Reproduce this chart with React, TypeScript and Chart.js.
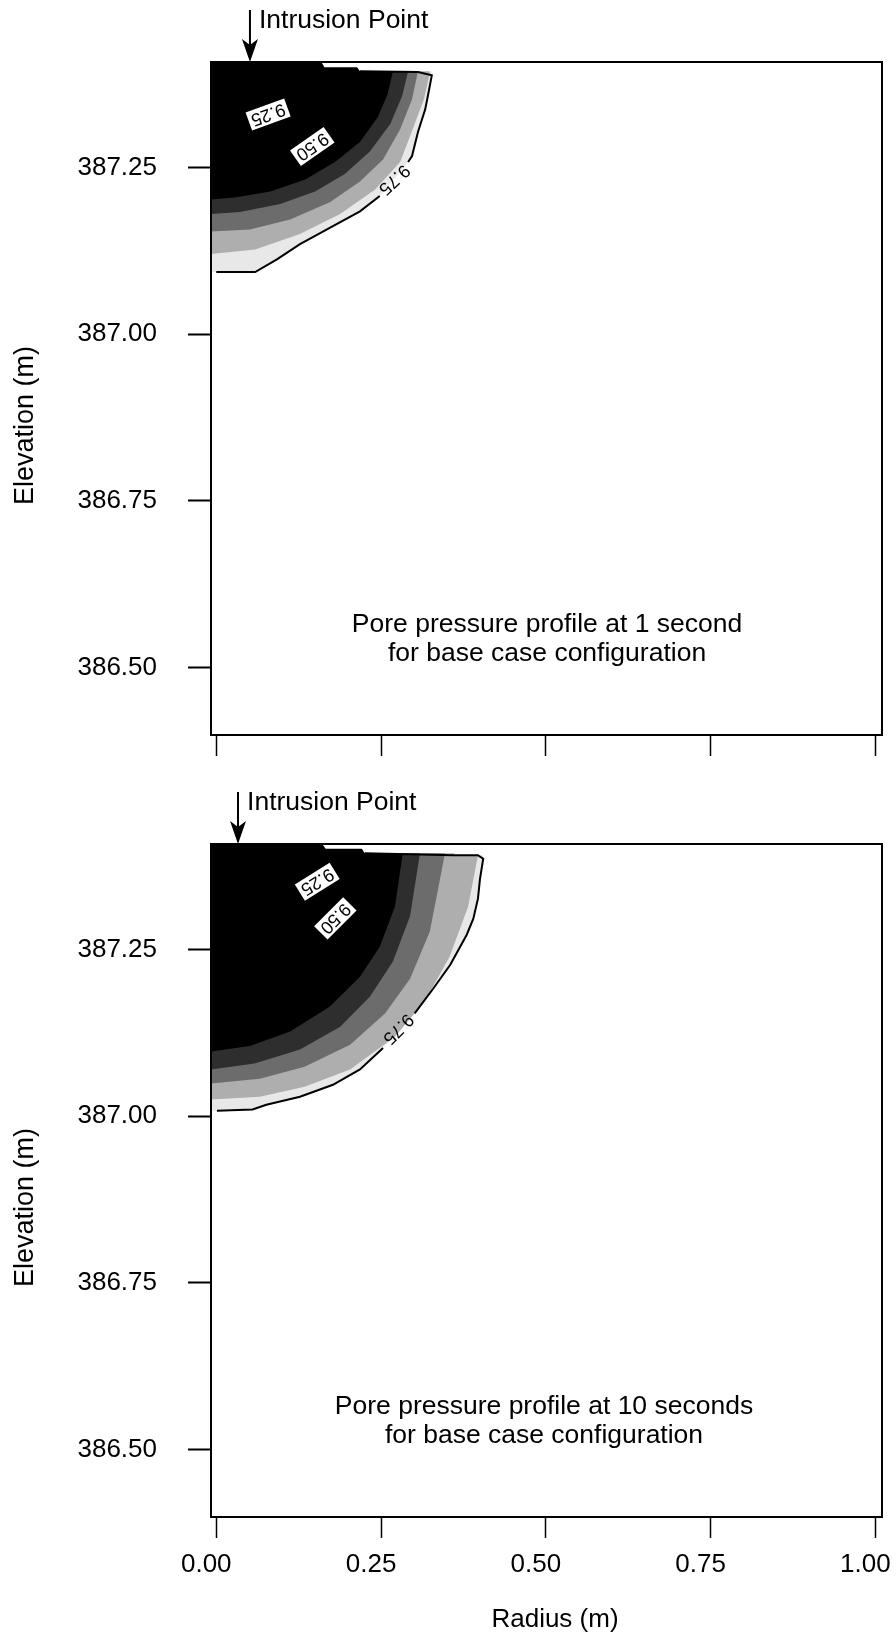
import React, { useEffect, useRef } from "react";
import { Chart, registerables } from "chart.js";

Chart.register(...registerables);

const FONT = '"Liberation Sans", Arial, Helvetica, sans-serif';

// ---- axes ----
const xTicks = [0, 0.25, 0.5, 0.75, 1.0];
const yTicks = [386.5, 386.75, 387.0, 387.25];
const xMin = -0.008;
const xMax = 1.01;
const yMin = 386.399;
const yMax = 387.408;

// ---- panel 1 (1 second) : 9.75 contour, split around its label ----
const t1_c975_lower = [[0.0, 387.093], [0.059, 387.093], [0.092, 387.112], [0.127, 387.135], [0.177, 387.162], [0.218, 387.184], [0.248, 387.207]];
const t1_c975_upper = [[0.291, 387.258], [0.297, 387.267], [0.306, 387.303], [0.317, 387.337], [0.321, 387.357], [0.327, 387.388]];
const t1_c975_top = [[0.306, 387.393], [0.218, 387.394]];
// shading levels (inner to outer)
const t1_core = [[-0.008, 387.202], [0.028, 387.205], [0.082, 387.214], [0.135, 387.232], [0.18, 387.258], [0.218, 387.288], [0.245, 387.325], [0.26, 387.36], [0.268, 387.394]];
const t1_dark = [[-0.008, 387.18], [0.036, 387.183], [0.097, 387.195], [0.15, 387.214], [0.195, 387.24], [0.233, 387.274], [0.264, 387.315], [0.282, 387.357], [0.291, 387.394]];
const t1_mid = [[-0.008, 387.154], [0.051, 387.157], [0.112, 387.172], [0.173, 387.198], [0.218, 387.229], [0.253, 387.262], [0.279, 387.307], [0.297, 387.352], [0.306, 387.394]];
const t1_light = [[-0.008, 387.12], [0.059, 387.127], [0.127, 387.15], [0.188, 387.18], [0.241, 387.217], [0.279, 387.258], [0.298, 387.307], [0.315, 387.352], [0.324, 387.391]];
const t1_fieldTop = [[0.159, 387.409], [0.164, 387.4], [0.2135, 387.4], [0.218, 387.394], [0.34, 387.394]];
const t1_labelText = ["9.25", "9.50", "9.75"];
const t1_labelX = [0.0784, 0.1452, 0.2696];
const t1_labelY = [387.33, 387.282, 387.232];
const t1_intrusionX = 0.0511;

// ---- panel 2 (10 seconds) ----
const t10_c975_lower = [[0.001, 387.008], [0.055, 387.01], [0.076, 387.017], [0.127, 387.029], [0.177, 387.047], [0.218, 387.07], [0.253, 387.102]];
const t10_c975_upper = [[0.301, 387.154], [0.329, 387.191], [0.355, 387.227], [0.38, 387.272], [0.39, 387.296], [0.397, 387.326], [0.4, 387.355], [0.405, 387.386]];
const t10_c975_top = [[0.397, 387.391], [0.359, 387.391], [0.225, 387.394]];
const t10_core = [[-0.008, 387.097], [0.051, 387.105], [0.112, 387.127], [0.172, 387.164], [0.218, 387.209], [0.248, 387.254], [0.271, 387.314], [0.283, 387.394]];
const t10_dark = [[-0.008, 387.07], [0.058, 387.079], [0.127, 387.1], [0.188, 387.134], [0.233, 387.179], [0.268, 387.232], [0.294, 387.3], [0.309, 387.394]];
const t10_mid = [[-0.008, 387.049], [0.066, 387.056], [0.134, 387.074], [0.203, 387.107], [0.256, 387.154], [0.294, 387.206], [0.324, 387.277], [0.347, 387.394]];
const t10_light = [[-0.008, 387.025], [0.066, 387.029], [0.134, 387.044], [0.203, 387.07], [0.271, 387.119], [0.316, 387.172], [0.354, 387.239], [0.382, 387.314], [0.397, 387.391]];
const t10_fieldTop = [[0.16, 387.409], [0.166, 387.401], [0.221, 387.401], [0.225, 387.394], [0.36, 387.394], [0.364, 387.391], [0.42, 387.391]];
const t10_labelText = ["9.25", "9.50", "9.75"];
const t10_labelX = [0.1528, 0.1801, 0.2757];
const t10_labelY = [387.352, 387.297, 387.131];
const t10_intrusionX = 0.033;

const noteLines1 = ["Pore pressure profile at 1 second", "for base case configuration"];
const noteLines10 = ["Pore pressure profile at 10 seconds", "for base case configuration"];
const noteY = [386.553, 386.51];

type Cfg = {
  height: number;
  padTop: number;
  xAxisHeight: number;
  showXLabels: boolean;
  lower: number[][];
  upper: number[][];
  top: number[][];
  core: number[][];
  dark: number[][];
  mid: number[][];
  light: number[][];
  fieldTop: number[][];
  labelText: string[];
  labelX: number[];
  labelY: number[];
  labelAngle: number[];
  labelBoxed: boolean[];
  intrusionX: number;
  note: string[];
  noteX: number;
  radiusTitle: boolean;
};

const panels: Cfg[] = [
  {
    height: 790, padTop: 62, xAxisHeight: 55, showXLabels: false,
    lower: t1_c975_lower, upper: t1_c975_upper, top: t1_c975_top,
    core: t1_core, dark: t1_dark, mid: t1_mid, light: t1_light, fieldTop: t1_fieldTop,
    labelText: t1_labelText, labelX: t1_labelX, labelY: t1_labelY,
    labelAngle: [160, 145, 137], labelBoxed: [true, true, false],
    intrusionX: t1_intrusionX, note: noteLines1, noteX: 0.5018, radiusTitle: false,
  },
  {
    height: 848, padTop: 54, xAxisHeight: 121, showXLabels: true,
    lower: t10_c975_lower, upper: t10_c975_upper, top: t10_c975_top,
    core: t10_core, dark: t10_dark, mid: t10_mid, light: t10_light, fieldTop: t10_fieldTop,
    labelText: t10_labelText, labelX: t10_labelX, labelY: t10_labelY,
    labelAngle: [148, 135, 135], labelBoxed: [true, true, false],
    intrusionX: t10_intrusionX, note: noteLines10, noteX: 0.4972, radiusTitle: true,
  },
];

const toPts = (a: number[][]) => a.map(([x, y]) => ({ x, y }));

function fillSet(data: number[][], color: string, order: number) {
  return {
    data: toPts(data),
    borderWidth: 0,
    borderColor: color,
    backgroundColor: color,
    fill: "end",
    pointRadius: 0,
    tension: 0,
    order,
  };
}

function makeDecor(cfg: Cfg) {
  return {
    id: "decor",
    afterDraw(chart: any) {
      const ctx = chart.ctx as CanvasRenderingContext2D;
      const { left, top, right, bottom } = chart.chartArea;
      const xs = chart.scales.x;
      const ys = chart.scales.y;
      ctx.save();
      // contour labels
      for (let i = 0; i < cfg.labelText.length; i++) {
        const px = xs.getPixelForValue(cfg.labelX[i]);
        const py = ys.getPixelForValue(cfg.labelY[i]);
        ctx.save();
        ctx.translate(px, py);
        ctx.rotate((cfg.labelAngle[i] * Math.PI) / 180);
        ctx.font = `18px ${FONT}`;
        const w = ctx.measureText(cfg.labelText[i]).width;
        if (cfg.labelBoxed[i]) {
          ctx.fillStyle = "#fff";
          ctx.fillRect(-w / 2 - 3, -10, w + 6, 19);
        }
        ctx.fillStyle = "#000";
        ctx.textAlign = "center";
        ctx.textBaseline = "middle";
        ctx.fillText(cfg.labelText[i], 0, 0);
        ctx.restore();
      }
      // frame
      ctx.strokeStyle = "#000";
      ctx.lineWidth = 2;
      ctx.strokeRect(left, top, right - left, bottom - top);
      // intrusion arrow
      const ax = xs.getPixelForValue(cfg.intrusionX);
      ctx.fillStyle = "#000";
      ctx.beginPath();
      ctx.moveTo(ax, top - 52);
      ctx.lineTo(ax, top - 14);
      ctx.lineWidth = 2;
      ctx.stroke();
      ctx.beginPath();
      ctx.moveTo(ax, top);
      ctx.lineTo(ax - 8, top - 23);
      ctx.lineTo(ax, top - 17);
      ctx.lineTo(ax + 8, top - 23);
      ctx.closePath();
      ctx.fill();
      ctx.font = `26.5px ${FONT}`;
      ctx.textAlign = "left";
      ctx.textBaseline = "alphabetic";
      ctx.fillText("Intrusion Point", ax + 9, top - 34);
      // note text
      ctx.textAlign = "center";
      const nx = xs.getPixelForValue(cfg.noteX);
      for (let i = 0; i < cfg.note.length; i++) {
        ctx.fillText(cfg.note[i], nx, ys.getPixelForValue(noteY[i]));
      }
      // y axis title
      ctx.save();
      ctx.font = `27px ${FONT}`;
      ctx.translate(33, (top + bottom) / 2 + 27);
      ctx.rotate(-Math.PI / 2);
      ctx.textAlign = "center";
      ctx.fillText("Elevation (m)", 0, 0);
      ctx.restore();
      if (cfg.radiusTitle) {
        ctx.font = `26px ${FONT}`;
        ctx.textAlign = "center";
        ctx.fillText("Radius (m)", 555, bottom + 110);
      }
      ctx.restore();
    },
  };
}

function Panel({ cfg }: { cfg: Cfg }) {
  const ref = useRef<HTMLCanvasElement>(null);
  useEffect(() => {
    const lineData = [
      ...toPts(cfg.lower),
      { x: (cfg.lower[cfg.lower.length - 1][0] + cfg.upper[0][0]) / 2, y: null as any },
      ...toPts(cfg.upper),
      ...toPts(cfg.top),
    ];
    const outer = [[xMin, cfg.lower[0][1]], ...cfg.lower, ...cfg.upper];
    const chart = new Chart(ref.current!, {
      type: "line",
      data: {
        datasets: [
          {
            data: lineData,
            borderColor: "#000",
            borderWidth: 2,
            fill: false,
            pointRadius: 0,
            tension: 0,
            spanGaps: false,
            order: 1,
          } as any,
          fillSet(cfg.fieldTop, "#ffffff", 2),
          fillSet(cfg.core, "#000000", 3),
          fillSet(cfg.dark, "#2e2e2e", 4),
          fillSet(cfg.mid, "#6c6c6c", 5),
          fillSet(cfg.light, "#aeaeae", 6),
          fillSet(outer, "#e8e8e8", 7),
        ],
      },
      options: {
        animation: false,
        responsive: false,
        devicePixelRatio: 1,
        events: [],
        layout: { padding: { top: cfg.padTop, right: 14, bottom: 0, left: 0 } },
        plugins: { legend: { display: false }, tooltip: { enabled: false } },
        scales: {
          x: {
            type: "linear",
            min: xMin,
            max: xMax,
            afterBuildTicks: (s: any) => {
              s.ticks = xTicks.map((v) => ({ value: v }));
            },
            afterFit: (s: any) => {
              s.height = cfg.xAxisHeight;
              s.paddingLeft = 0;
              s.paddingRight = 0;
            },
            border: { display: false },
            grid: { display: true, drawOnChartArea: false, drawTicks: true, tickLength: 21, tickWidth: 1.5, tickColor: "#000" },
            ticks: {
              color: cfg.showXLabels ? "#000" : "rgba(0,0,0,0)",
              font: { family: FONT, size: 26 },
              padding: 11,
              labelOffset: -10,
              maxRotation: 0,
              minRotation: 0,
              autoSkip: false,
              callback: (v: any) => Number(v).toFixed(2),
            },
          },
          y: {
            type: "linear",
            min: yMin,
            max: yMax,
            afterBuildTicks: (s: any) => {
              s.ticks = yTicks.map((v) => ({ value: v }));
            },
            afterFit: (s: any) => {
              s.width = 211;
              s.paddingTop = 0;
              s.paddingBottom = 0;
            },
            border: { display: false },
            grid: { display: true, drawOnChartArea: false, drawTicks: true, tickLength: 23, tickWidth: 2, tickColor: "#000" },
            ticks: {
              color: "#000",
              font: { family: FONT, size: 26 },
              padding: 31,
              autoSkip: false,
              callback: (v: any) => Number(v).toFixed(2),
            },
          },
        },
      } as any,
      plugins: [makeDecor(cfg)],
    });
    return () => chart.destroy();
  }, [cfg]);
  return <canvas ref={ref} width={896} height={cfg.height} style={{ display: "block", width: 896, height: cfg.height }} />;
}

export default function App() {
  return (
    <div style={{ position: "absolute", left: 0, top: 0, width: 896, height: 1638, background: "#fff" }}>
      <Panel cfg={panels[0]} />
      <Panel cfg={panels[1]} />
    </div>
  );
}
